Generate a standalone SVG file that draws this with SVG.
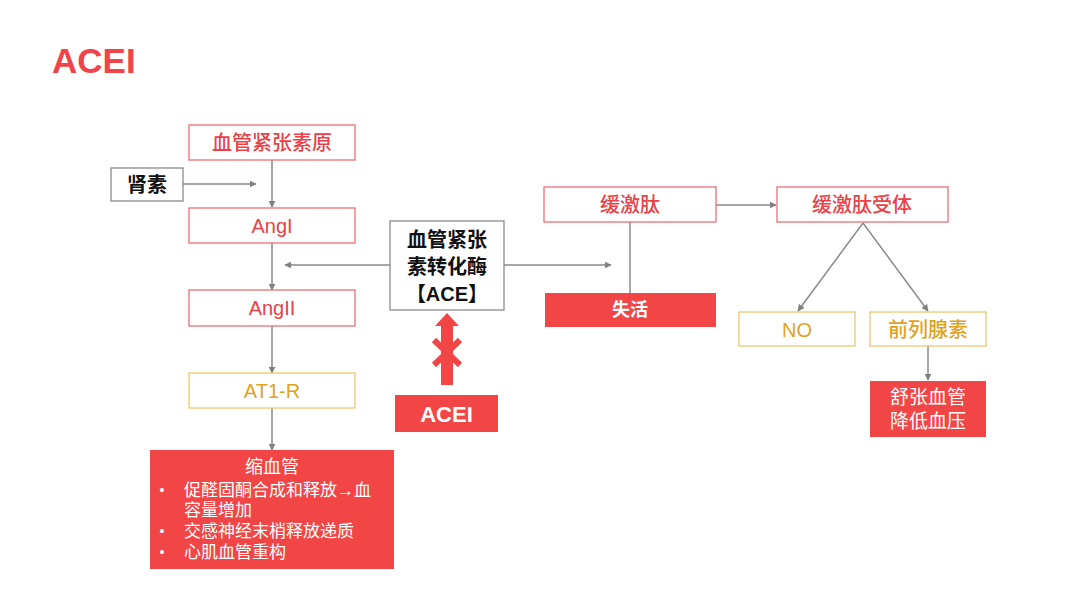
<svg xmlns="http://www.w3.org/2000/svg" width="1080" height="607" viewBox="0 0 1080 607">
<defs>
<style>
text{font-family:"Liberation Sans","Noto Sans CJK SC",sans-serif;text-anchor:middle;dominant-baseline:central}
.rb{fill:#fff;stroke:#ec6f73;stroke-width:1.3}
.rt{fill:#ea4148;font-size:20px;font-weight:500}
.gb{fill:#fff;stroke:#ecc86a;stroke-width:1.3}
.gt{fill:#dfa21f;font-size:20px;font-weight:500}
.kb{fill:#fff;stroke:#8a8a8a;stroke-width:1.3}
.kt{fill:#111;font-size:20px;font-weight:bold}
.fb{fill:#f24646}
.wt{fill:#fff;font-size:18px}
.bt{fill:#fff;font-size:17px;text-anchor:start}
.bu{fill:#fff;font-size:14px}
.ln{stroke:#8a8a8a;stroke-width:1.5;fill:none}
.la{stroke:#8a8a8a;stroke-width:1.5;fill:none;marker-end:url(#ah)}
</style>
<marker id="ah" viewBox="0 0 10 10" refX="9" refY="5" markerWidth="7" markerHeight="7" markerUnits="userSpaceOnUse" orient="auto">
<path d="M0,0 L10,5 L0,10 z" fill="#808080"/>
</marker>
</defs>
<rect width="1080" height="607" fill="#fff"/>
<text x="52" y="60" style="text-anchor:start;font-size:35px;font-weight:bold;fill:#f0444a">ACEI</text>

<g id="connectors">
<line class="la" x1="272" y1="160" x2="272" y2="207"/>
<line class="la" x1="183" y1="184" x2="256" y2="184"/>
<line class="la" x1="272" y1="243" x2="272" y2="290"/>
<line class="la" x1="272" y1="326" x2="272" y2="373"/>
<line class="la" x1="272" y1="408" x2="272" y2="450"/>
<line class="la" x1="390" y1="265" x2="285" y2="265"/>
<line class="la" x1="504" y1="265" x2="611" y2="265"/>
<line class="ln" x1="630" y1="222" x2="630" y2="293"/>
<line class="la" x1="716" y1="205" x2="776" y2="205"/>
<line class="la" x1="863" y1="223" x2="798" y2="311"/>
<line class="la" x1="863" y1="223" x2="928" y2="311"/>
<line class="la" x1="928" y1="346" x2="928" y2="380"/>
</g>

<g id="n-agt"><rect class="rb" x="189" y="125" width="166" height="35"/><text class="rt" x="272" y="143">血管紧张素原</text></g>
<g id="n-renin"><rect class="kb" x="111" y="168" width="72" height="33"/><text class="kt" x="147" y="185">肾素</text></g>
<g id="n-ang1"><rect class="rb" x="189" y="208" width="166" height="35"/><text class="rt" x="272" y="226">AngI</text></g>
<g id="n-ang2"><rect class="rb" x="189" y="290" width="166" height="36"/><text class="rt" x="272" y="308">AngII</text></g>
<g id="n-at1r"><rect class="gb" x="189" y="373" width="166" height="35"/><text class="gt" x="272" y="391">AT1-R</text></g>
<g id="n-vaso">
<rect class="fb" x="150" y="450" width="244" height="119"/>
<text class="wt" x="272" y="467">缩血管</text>
<text class="bu" x="162" y="490">•</text>
<text class="bt" x="184" y="490">促醛固酮合成和释放→血</text>
<text class="bt" x="184" y="510">容量增加</text>
<text class="bu" x="162" y="531">•</text>
<text class="bt" x="184" y="531">交感神经末梢释放递质</text>
<text class="bu" x="162" y="552">•</text>
<text class="bt" x="184" y="552">心肌血管重构</text>
</g>
<g id="n-ace">
<rect class="kb" x="390" y="221" width="114" height="89"/>
<text class="kt" x="447" y="240">血管紧张</text>
<text class="kt" x="447" y="267">素转化酶</text>
<text class="kt" x="447" y="294">【ACE】</text>
</g>
<g id="n-block">
<polygon fill="#f24646" points="447,313 459,326 453,326 453,385 441,385 441,326 435,326"/>
<line x1="434" y1="340" x2="460" y2="365" stroke="#f24646" stroke-width="6"/>
<line x1="460" y1="340" x2="434" y2="365" stroke="#f24646" stroke-width="6"/>
</g>
<g id="n-acei"><rect class="fb" x="395" y="395" width="103" height="37"/><text x="446.5" y="414" style="fill:#fff;font-size:22px;font-weight:bold">ACEI</text></g>
<g id="n-bk"><rect class="rb" x="544" y="187" width="172" height="35"/><text class="rt" x="630" y="205">缓激肽</text></g>
<g id="n-inact"><rect class="fb" x="545" y="293" width="171" height="34"/><text class="wt" x="630" y="310" style="font-weight:bold">失活</text></g>
<g id="n-bkr"><rect class="rb" x="777" y="187" width="171" height="35"/><text class="rt" x="862" y="205">缓激肽受体</text></g>
<g id="n-no"><rect class="gb" x="739" y="312" width="116" height="34"/><text class="gt" x="797" y="330">NO</text></g>
<g id="n-pg"><rect class="gb" x="870" y="312" width="116" height="34"/><text class="gt" x="928" y="330">前列腺素</text></g>
<g id="n-dil">
<rect class="fb" x="870" y="381" width="116" height="56"/>
<text class="wt" x="928" y="397" style="font-size:19px">舒张血管</text>
<text class="wt" x="928" y="421" style="font-size:19px">降低血压</text>
</g>
</svg>
